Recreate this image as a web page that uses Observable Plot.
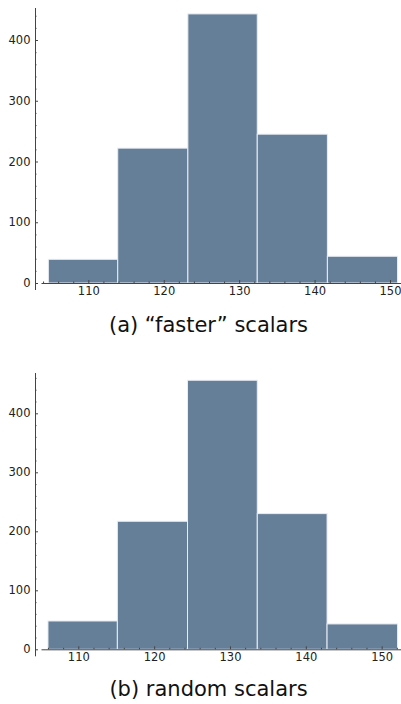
<!DOCTYPE html>
<html>
<head>
<meta charset="utf-8">
<script src="https://cdn.jsdelivr.net/npm/d3@7"></script>
<script src="https://cdn.jsdelivr.net/npm/@observablehq/plot@0.6"></script>
<style>
  html, body { margin: 0; padding: 0; background: #fff; }
  #wrap { position: relative; width: 401px; height: 704px; overflow: hidden; }
  .fig { position: absolute; left: 0; }
  .cap { position: absolute; left: 8px; width: 401px; text-align: center;
         font-family: "DejaVu Sans", sans-serif; font-size: 21px; color: #111; line-height: 1; }
</style>
</head>
<body>
<div id="wrap"></div>
<script>
// ---- data ----
const edgesA = [104.7, 113.9, 123.2, 132.4, 141.7, 151.0];
const countsA = [39, 222, 443, 245, 44];
const edgesB = [106.0, 115.15, 124.4, 133.6, 142.8, 152.1];
const countsB = [48, 217, 456, 230, 43];
const xTickLabels = [110, 120, 130, 140, 150];
const yTickLabels = [0, 100, 200, 300, 400];
const captionA = "(a) \u201Cfaster\u201D scalars";
const captionB = "(b) random scalars";

const barFill = "#667f99";
const axisColor = "#444";

function histo({edges, counts, xDomain, yMax, height, marginTop, marginBottom}) {
  const bins = counts.map((c, i) => ({x1: edges[i], x2: edges[i + 1], y: c}));
  const minorX = d3.range(104, 153, 2).filter(v => v >= xDomain[0] && v <= xDomain[1] && v % 10 !== 0);
  const minorY = d3.range(20, yMax, 20).filter(v => v % 100 !== 0);
  return Plot.plot({
    width: 401,
    height,
    marginLeft: 35,
    marginRight: 0,
    marginTop,
    marginBottom,
    x: {domain: xDomain, label: null},
    y: {domain: [0, yMax], label: null},
    style: {fontFamily: "DejaVu Sans, sans-serif", fontSize: "11.5px", color: "#222", background: "#fff"},
    marks: [
      Plot.rectY(bins, {x1: "x1", x2: "x2", y: "y", fill: barFill, stroke: "#e8edf2", strokeWidth: 1, inset: 0}),
      // axis lines
      Plot.ruleX([xDomain[0]], {stroke: axisColor, strokeWidth: 1, insetBottom: -7}),
      Plot.ruleY([0], {stroke: axisColor, strokeWidth: 1, insetLeft: 6.5}),
      // y axis labels and ticks
      Plot.axisY({ticks: yTickLabels, tickSize: 0, tickPadding: 5, tickFormat: d => d, fill: "#222", label: null}),
      Plot.axisY({ticks: yTickLabels, text: null, tickSize: -3, stroke: axisColor, label: null}),
      Plot.axisY({ticks: minorY, text: null, tickSize: -1.5, stroke: axisColor, label: null}),
      // x axis labels and ticks
      Plot.axisX({ticks: xTickLabels, tickSize: 0, tickPadding: 3, tickFormat: d => d, fill: "#222", label: null}),
      Plot.axisX({ticks: xTickLabels, text: null, tickSize: -3, stroke: axisColor, label: null}),
      Plot.axisX({ticks: minorX, text: null, tickSize: -1.5, stroke: axisColor, label: null})
    ]
  });
}

const wrap = document.getElementById("wrap");

const figA = histo({edges: edgesA, counts: countsA, xDomain: [102.93, 151.46], yMax: 452.7,
  height: 300, marginTop: 8, marginBottom: 17});
figA.classList.add("fig"); figA.style.top = "0px";
wrap.appendChild(figA);

const capA = document.createElement("div");
capA.className = "cap"; capA.textContent = captionA; capA.style.top = "315px";
wrap.appendChild(capA);

const figB = histo({edges: edgesB, counts: countsB, xDomain: [104.29, 152.55], yMax: 468.3,
  height: 310, marginTop: 13, marginBottom: 20.7});
figB.classList.add("fig"); figB.style.top = "360px";
wrap.appendChild(figB);

const capB = document.createElement("div");
capB.className = "cap"; capB.textContent = captionB; capB.style.top = "679px";
wrap.appendChild(capB);
</script>
</body>
</html>
